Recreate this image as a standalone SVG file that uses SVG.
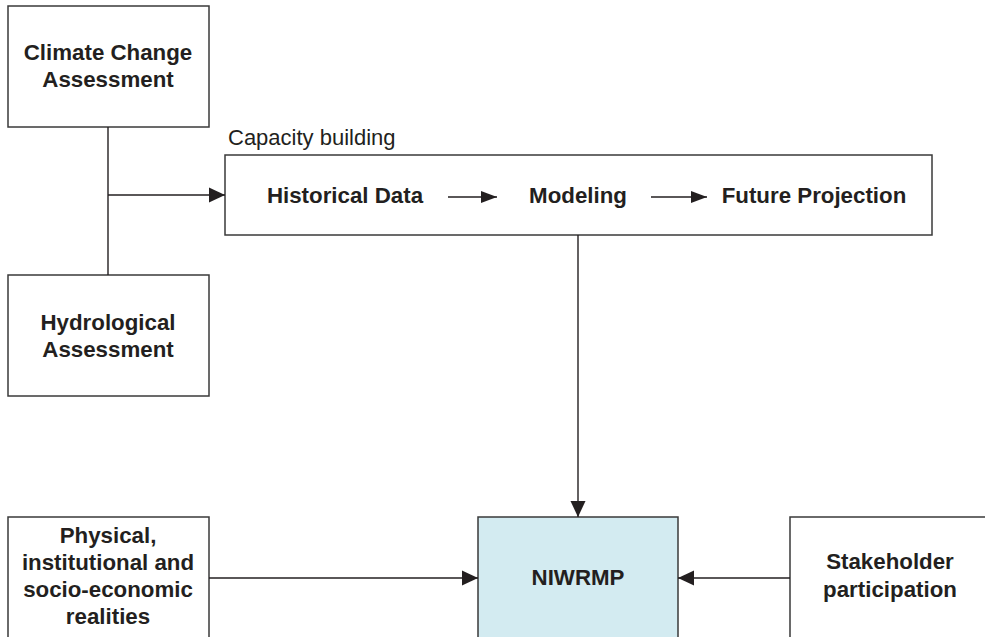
<svg xmlns="http://www.w3.org/2000/svg" width="985" height="637" viewBox="0 0 985 637">
<style>
.box{fill:#fff;stroke:#3a3a3a;stroke-width:1.5}
.hub{fill:#d3ebf1;stroke:#3a3a3a;stroke-width:1.5}
.ln{fill:none;stroke:#231f20;stroke-width:1.4}
.t{font-family:"Liberation Sans",Arial,sans-serif;font-size:22.3px;font-weight:bold;fill:#231f20;text-anchor:middle}
.r{font-family:"Liberation Sans",Arial,sans-serif;font-size:22px;fill:#231f20}
</style>
<defs>
<marker id="ah" markerUnits="userSpaceOnUse" markerWidth="16" markerHeight="16" viewBox="0 0 16 16" refX="16" refY="8" orient="auto">
<path d="M0,0.5 L16,8 L0,15.5 Z" fill="#231f20"/>
</marker>
<marker id="ahs" markerUnits="userSpaceOnUse" markerWidth="16" markerHeight="14" viewBox="0 0 16 14" refX="16" refY="7" orient="auto">
<path d="M0,1 L16,7 L0,13 Z" fill="#231f20"/>
</marker>
</defs>
<g id="climate">
<rect class="box" x="8" y="6" width="201" height="121"/>
<text class="t" x="108" y="60">Climate Change</text>
<text class="t" x="108" y="87">Assessment</text>
</g>
<g id="hydro">
<rect class="box" x="8" y="275" width="201" height="121"/>
<text class="t" x="108" y="330">Hydrological</text>
<text class="t" x="108" y="357">Assessment</text>
</g>
<g id="capacity">
<text class="r" x="228" y="145">Capacity building</text>
<rect class="box" x="225" y="155" width="707" height="80"/>
<text class="t" x="345" y="203">Historical Data</text>
<text class="t" x="578" y="203">Modeling</text>
<text class="t" x="814" y="203">Future Projection</text>
</g>
<g id="physical">
<rect class="box" x="8" y="517" width="201" height="130"/>
<text class="t" x="108" y="543">Physical,</text>
<text class="t" x="108" y="570">institutional and</text>
<text class="t" x="108" y="597">socio-economic</text>
<text class="t" x="108" y="624">realities</text>
</g>
<g id="niwrmp">
<rect class="hub" x="478" y="517" width="200" height="130"/>
<text class="t" x="578" y="585">NIWRMP</text>
</g>
<g id="stakeholder">
<rect class="box" x="790" y="517" width="210" height="130"/>
<text class="t" x="890" y="569">Stakeholder</text>
<text class="t" x="890" y="597">participation</text>
</g>
<g id="connectors">
<path class="ln" d="M108,127 V275"/>
<path class="ln" d="M108,195 H225" marker-end="url(#ah)"/>
<path class="ln" d="M448,197 H497" marker-end="url(#ahs)"/>
<path class="ln" d="M651,197 H707" marker-end="url(#ahs)"/>
<path class="ln" d="M578,235 V517" marker-end="url(#ah)"/>
<path class="ln" d="M209,578 H478" marker-end="url(#ah)"/>
<path class="ln" d="M790,578 H678" marker-end="url(#ah)"/>
</g>
</svg>
